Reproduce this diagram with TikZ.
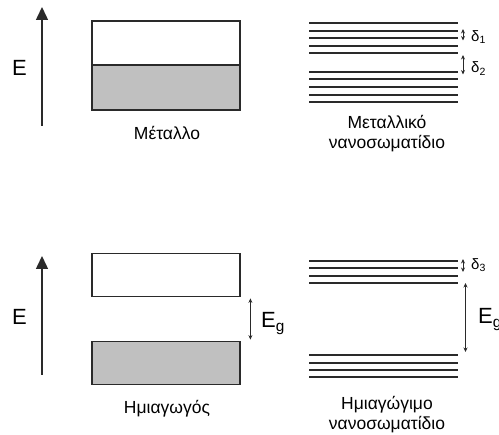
\documentclass[tikz,border=0pt]{standalone}
\usepackage{fontspec}
\setmainfont{Liberation Sans}
\usetikzlibrary{arrows.meta}
\definecolor{ink}{HTML}{2A2A2A}
\definecolor{bandfill}{HTML}{C0C0C0}
\begin{document}
\begin{tikzpicture}[x=1pt,y=-1pt,
  band/.style={draw=ink, line width=1.8pt, minimum width=148pt, minimum height=43pt, inner sep=0pt},
  filledband/.style={band, fill=bandfill},
  level/.style={draw=ink, line width=1.8pt},
  axis/.style={draw=ink, line width=1.5pt, -{Triangle[length=13pt,width=12pt]}},
  gap/.style={draw=ink, line width=0.9pt, {Stealth[length=4.5pt,width=4pt]}-{Stealth[length=4.5pt,width=4pt]}},
  caption/.style={font=\fontsize{17.5}{20}\selectfont, anchor=base, inner sep=0pt},
  elabel/.style={font=\fontsize{22}{25}\selectfont, anchor=base west, inner sep=0pt},
  dlabel/.style={font=\fontsize{15}{17}\selectfont, anchor=base west, inner sep=0pt}]
\useasboundingbox (0,0) rectangle (499,435);

% ---- metal: energy axis and continuous band ----
\coordinate (axA0) at (42,126);
\coordinate (axA1) at (42,7);
\draw[axis] (axA0) -- (axA1);
\node[elabel] (eA) at (12,75.5) {E};
\node[band, minimum height=44pt] (metalEmpty) at (166,43) {};
\node[filledband, minimum height=45pt] (metalFull) at (166,87.5) {};
\node[caption] (capMetal) at (167,139.5) {Μέταλλο};

% ---- metal nanoparticle: discrete levels ----
\foreach \y in {22.7,30.7,38.3,45.7,53.3,71.7,79.3,87.3,95,102.3}
  \draw[level] (309,\y) -- (458,\y);
\coordinate (d1a) at (463,29);
\coordinate (d1b) at (463,40.5);
\draw[gap] (d1a) -- (d1b);
\node[dlabel] (d1) at (471,41.5) {δ\textsubscript{1}};
\coordinate (d2a) at (463,55);
\coordinate (d2b) at (463,74.5);
\draw[gap] (d2a) -- (d2b);
\node[dlabel] (d2) at (471,73) {δ\textsubscript{2}};
\node[caption] (capMetalNano1) at (387,128.5) {Μεταλλικό};
\node[caption] (capMetalNano2) at (387,148.5) {νανοσωματίδιο};

% ---- semiconductor: energy axis, bands and gap ----
\coordinate (axB0) at (42,375);
\coordinate (axB1) at (42,256);
\draw[axis] (axB0) -- (axB1);
\node[elabel] (eB) at (12,324.5) {E};
\node[band] (semiCond) at (166,275) {};
\node[filledband] (semiVal) at (166,363) {};
\path (semiCond.south east) ++(9.5,1) coordinate (egA)
      (semiVal.north east) ++(9.5,-1) coordinate (egB);
\draw[gap] (egA) -- (egB);
\node[elabel] (egLeft) at (261,328) {E\textsubscript{g}};
\node[caption] (capSemi) at (167,413.5) {Ημιαγωγός};

% ---- semiconductor nanoparticle: discrete levels ----
\foreach \y in {260.7,268.3,275.7,283.3,355,362.7,370,377.3}
  \draw[level] (309,\y) -- (458,\y);
\coordinate (d3a) at (463,259);
\coordinate (d3b) at (463,272);
\draw[gap] (d3a) -- (d3b);
\node[dlabel] (d3) at (471,269.5) {δ\textsubscript{3}};
\coordinate (eg2a) at (465.5,283);
\coordinate (eg2b) at (465.5,352);
\draw[gap] (eg2a) -- (eg2b);
\node[elabel] (egRight) at (478,324) {E\textsubscript{g}};
\node[caption] (capSemiNano1) at (387,409.5) {Ημιαγώγιμο};
\node[caption] (capSemiNano2) at (387,429.5) {νανοσωματίδιο};
\end{tikzpicture}
\end{document}
